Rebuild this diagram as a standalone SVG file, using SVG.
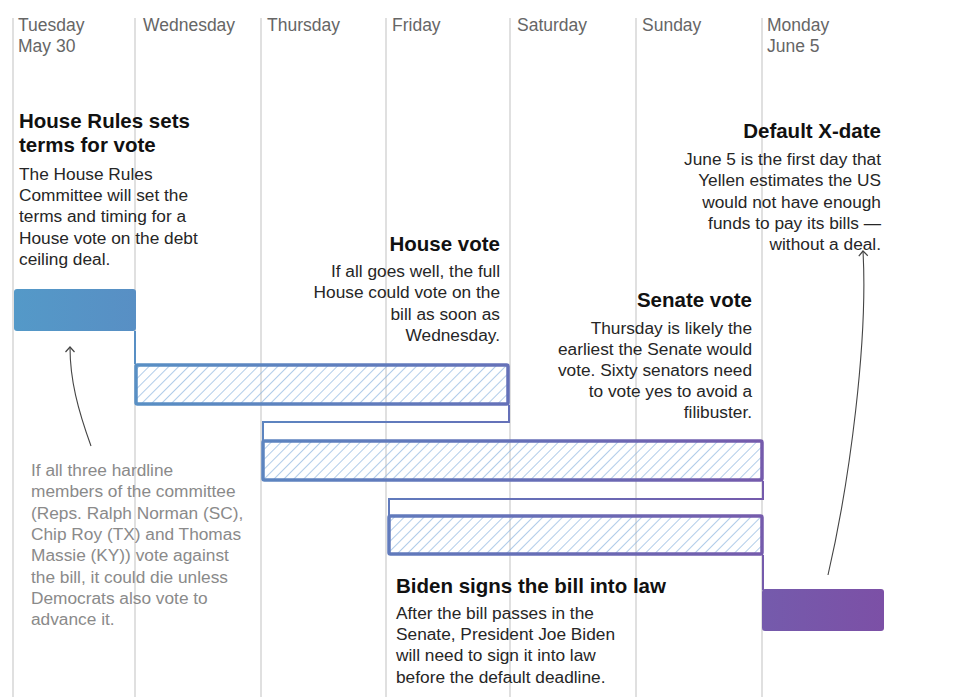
<svg xmlns="http://www.w3.org/2000/svg" width="962" height="697" viewBox="0 0 962 697">
<defs>
<linearGradient id="g" gradientUnits="userSpaceOnUse" x1="14" y1="0" x2="884" y2="0">
<stop offset="0" stop-color="#5499c8"/>
<stop offset="0.55" stop-color="#6472b9"/>
<stop offset="1" stop-color="#7c50a6"/>
</linearGradient>
<linearGradient id="gh" gradientUnits="userSpaceOnUse" x1="14" y1="0" x2="884" y2="0">
<stop offset="0" stop-color="#8fb6e0"/>
<stop offset="1" stop-color="#b497d4"/>
</linearGradient>
<pattern id="hatch" patternUnits="userSpaceOnUse" width="7" height="7" patternTransform="rotate(45)">
<line x1="0" y1="0" x2="0" y2="7" stroke="url(#gh)" stroke-width="1.4"/>
</pattern>
<marker id="ah" markerWidth="12" markerHeight="12" refX="6" refY="6" orient="auto" markerUnits="userSpaceOnUse">
<path d="M1,1.5 L6,6 L1,10.5" fill="none" stroke="#444" stroke-width="1.2"/>
</marker>
<style>
.grid{stroke:#d6d6d6;stroke-width:1.5}
.day{font-family:"Liberation Sans",Arial,sans-serif;font-size:17.5px;fill:#666}
.h{font-family:"Liberation Sans",Arial,sans-serif;font-size:20.5px;font-weight:bold;fill:#111}
.b{font-family:"Liberation Sans",Arial,sans-serif;font-size:17.3px;fill:#262626}
.n{font-family:"Liberation Sans",Arial,sans-serif;font-size:17.3px;fill:#8a8a8a}
.r{text-anchor:end}
.bar{fill:url(#hatch);stroke:url(#g);stroke-width:3.5}
.conn{fill:none;stroke:url(#g);stroke-width:2}
.arr{fill:none;stroke:#444;stroke-width:1.1}
</style>
</defs>
<rect width="962" height="697" fill="#fff"/>
<g id="grid">
<line class="grid" x1="13" y1="18" x2="13" y2="697"/>
<line class="grid" x1="135" y1="18" x2="135" y2="697"/>
<line class="grid" x1="261" y1="18" x2="261" y2="697"/>
<line class="grid" x1="386" y1="18" x2="386" y2="697"/>
<line class="grid" x1="510" y1="18" x2="510" y2="697"/>
<line class="grid" x1="636" y1="18" x2="636" y2="697"/>
<line class="grid" x1="762" y1="18" x2="762" y2="697"/>
</g>
<g id="days">
<text class="day" x="18" y="31">Tuesday</text>
<text class="day" x="18" y="52">May 30</text>
<text class="day" x="143" y="31">Wednesday</text>
<text class="day" x="267" y="31">Thursday</text>
<text class="day" x="392" y="31">Friday</text>
<text class="day" x="517" y="31">Saturday</text>
<text class="day" x="642" y="31">Sunday</text>
<text class="day" x="767" y="31">Monday</text>
<text class="day" x="767" y="52">June 5</text>
</g>
<g id="connectors">
<path class="conn" d="M135,331 V364"/>
<path class="conn" d="M509,405 V422 H263 V440"/>
<path class="conn" d="M763,481 V499 H389 V515"/>
<path class="conn" d="M763,555 V590"/>
<path class="arr" d="M91,446 C78,410 70,380 70,347" marker-end="url(#ah)"/>
<path class="arr" d="M828,575 C850,480 868,340 863,251" marker-end="url(#ah)"/>
</g>
<g id="house-rules">
<rect x="14" y="289" width="122" height="42" rx="3" fill="url(#g)"/>
<text class="h" x="19" y="128">House Rules sets</text>
<text class="h" x="19" y="152">terms for vote</text>
<text class="b" x="19" y="180">The House Rules</text>
<text class="b" x="19" y="201">Committee will set the</text>
<text class="b" x="19" y="222">terms and timing for a</text>
<text class="b" x="19" y="244">House vote on the debt</text>
<text class="b" x="19" y="265">ceiling deal.</text>
</g>
<g id="house-vote">
<rect class="bar" x="136" y="365" width="372" height="39" rx="1.5"/>
<text class="h r" x="500" y="251">House vote</text>
<text class="b r" x="500" y="277">If all goes well, the full</text>
<text class="b r" x="500" y="298">House could vote on the</text>
<text class="b r" x="500" y="320">bill as soon as</text>
<text class="b r" x="500" y="341">Wednesday.</text>
</g>
<g id="senate-vote">
<rect class="bar" x="263" y="441" width="499" height="39" rx="1.5"/>
<text class="h r" x="752" y="307">Senate vote</text>
<text class="b r" x="752" y="334">Thursday is likely the</text>
<text class="b r" x="752" y="355">earliest the Senate would</text>
<text class="b r" x="752" y="376">vote. Sixty senators need</text>
<text class="b r" x="752" y="397">to vote yes to avoid a</text>
<text class="b r" x="752" y="418">filibuster.</text>
</g>
<g id="biden-signs">
<rect class="bar" x="389" y="516" width="373" height="38" rx="1.5"/>
<text class="h" x="396" y="593">Biden signs the bill into law</text>
<text class="b" x="396" y="619">After the bill passes in the</text>
<text class="b" x="396" y="640">Senate, President Joe Biden</text>
<text class="b" x="396" y="661">will need to sign it into law</text>
<text class="b" x="396" y="683">before the default deadline.</text>
</g>
<g id="default-xdate">
<rect x="762" y="589" width="122" height="42" rx="3" fill="url(#g)"/>
<text class="h r" x="881" y="138">Default X-date</text>
<text class="b r" x="881" y="165">June 5 is the first day that</text>
<text class="b r" x="881" y="186">Yellen estimates the US</text>
<text class="b r" x="881" y="208">would not have enough</text>
<text class="b r" x="881" y="229">funds to pay its bills —</text>
<text class="b r" x="881" y="250">without a deal.</text>
</g>
<g id="note">
<text class="n" x="31" y="476">If all three hardline</text>
<text class="n" x="31" y="497">members of the committee</text>
<text class="n" x="31" y="519">(Reps. Ralph Norman (SC),</text>
<text class="n" x="31" y="540">Chip Roy (TX) and Thomas</text>
<text class="n" x="31" y="561">Massie (KY)) vote against</text>
<text class="n" x="31" y="583">the bill, it could die unless</text>
<text class="n" x="31" y="604">Democrats also vote to</text>
<text class="n" x="31" y="625">advance it.</text>
</g>
</svg>
